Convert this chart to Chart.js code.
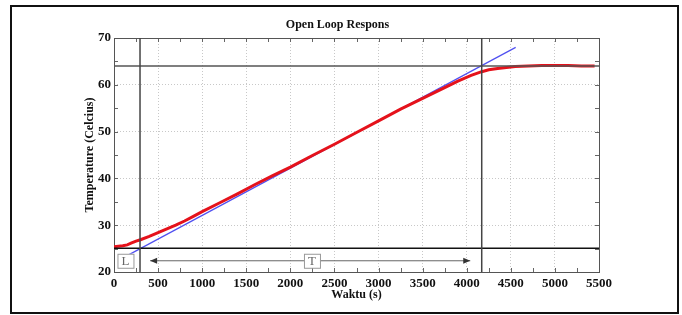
<!DOCTYPE html>
<html>
<head>
<meta charset="utf-8">
<script src="https://cdn.jsdelivr.net/npm/chart.js@4"></script>
<style>
  body { margin: 0; background: #fff; }
  #wrap { position: relative; width: 682px; height: 315px; }
  #frame { position: absolute; left: 10px; top: 5px; width: 665px; height: 305px; border: 2px solid #111; pointer-events: none; }
</style>
</head>
<body>
<div id="wrap">
  <canvas id="chart" width="682" height="315"></canvas>
  <div id="frame"></div>
</div>
<script>
const redTime = [0, 50, 100, 150, 200, 250, 300, 400, 500, 600, 700, 800, 900, 1000, 1200, 1400, 1600, 1800, 2000, 2250, 2500, 2750, 3000, 3250, 3500, 3750, 3900, 4050, 4170, 4250, 4350, 4450, 4550, 4700, 4850, 5000, 5150, 5300, 5450];
const redTemp = [25.4, 25.5, 25.6, 25.8, 26.2, 26.6, 26.9, 27.6, 28.4, 29.2, 30.0, 30.9, 31.9, 32.9, 34.8, 36.7, 38.7, 40.6, 42.4, 44.9, 47.3, 49.8, 52.3, 54.8, 57.1, 59.4, 60.8, 62.0, 62.8, 63.2, 63.5, 63.7, 63.9, 64.0, 64.1, 64.1, 64.1, 64.0, 64.0];

// tangent line end points
const tangentTime = [160, 4555];
const tangentTemp = [23.6, 68.0];

// reference lines
const markerTimes = [295, 4170];
const markerTemps = [25.1, 64];

// L / T annotation
const arrowTimes = [410, 4040];
const arrowTemp = 22.4;
const labelL = { text: 'L', x: 130 };
const labelT = { text: 'T', x: 2245 };

const xTicks = [0, 500, 1000, 1500, 2000, 2500, 3000, 3500, 4000, 4500, 5000, 5500];
const yTicks = [20, 30, 40, 50, 60, 70];

const serif = '"Liberation Serif", "Times New Roman", serif';

const pts = (xs, ys) => xs.map((x, i) => ({ x: x, y: ys[i] }));

const datasets = [];
markerTimes.forEach(t => datasets.push({
    data: [{ x: t, y: yTicks[0] }, { x: t, y: yTicks[yTicks.length - 1] }],
    borderColor: '#444', borderWidth: 1.5
}));
markerTemps.forEach((v, i) => datasets.push({
    data: [{ x: xTicks[0], y: v }, { x: xTicks[xTicks.length - 1], y: v }],
    borderColor: i === 0 ? '#111' : '#555', borderWidth: 1.5
}));
datasets.push({
    data: pts(redTime, redTemp),
    borderColor: '#e5121b', borderWidth: 3
});
datasets.push({
    data: pts(tangentTime, tangentTemp),
    borderColor: '#5050f0', borderWidth: 1.2
});

const extras = {
    id: 'extras',
    beforeDatasetsDraw(chart) {
        const { ctx, chartArea: a, scales: { x, y } } = chart;
        ctx.save();
        ctx.strokeStyle = '#666';
        ctx.lineWidth = 1;
        ctx.beginPath();
        for (let t = 0; t <= 5500; t += 250) {
            const px = Math.round(x.getPixelForValue(t)) + 0.5;
            ctx.moveTo(px, a.bottom); ctx.lineTo(px, a.bottom - 4);
            ctx.moveTo(px, a.top); ctx.lineTo(px, a.top + 4);
        }
        for (let v = 20; v <= 70; v += 5) {
            const py = Math.round(y.getPixelForValue(v)) + 0.5;
            ctx.moveTo(a.left, py); ctx.lineTo(a.left + 4, py);
            ctx.moveTo(a.right, py); ctx.lineTo(a.right - 4, py);
        }
        ctx.stroke();
        ctx.strokeStyle = '#555';
        ctx.strokeRect(a.left + 0.5, a.top + 0.5, a.right - a.left, a.bottom - a.top);
        ctx.restore();
    },
    afterDatasetsDraw(chart) {
        const { ctx, scales: { x, y } } = chart;
        const py = y.getPixelForValue(arrowTemp);
        const x0 = x.getPixelForValue(arrowTimes[0]);
        const x1 = x.getPixelForValue(arrowTimes[1]);
        ctx.save();
        ctx.strokeStyle = '#666';
        ctx.fillStyle = '#333';
        ctx.lineWidth = 1;
        ctx.beginPath();
        ctx.moveTo(x0, py); ctx.lineTo(x1, py);
        ctx.stroke();
        [[x0, 1], [x1, -1]].forEach(([px, d]) => {
            ctx.beginPath();
            ctx.moveTo(px, py);
            ctx.lineTo(px + 7 * d, py - 3);
            ctx.lineTo(px + 7 * d, py + 3);
            ctx.closePath();
            ctx.fill();
        });
        [labelL, labelT].forEach(l => {
            const cx = x.getPixelForValue(l.x);
            ctx.fillStyle = '#fff';
            ctx.fillRect(cx - 8, py - 7, 16, 14);
            ctx.strokeStyle = '#999';
            ctx.strokeRect(cx - 8 + 0.5, py - 7 + 0.5, 16, 14);
            ctx.fillStyle = '#666';
            ctx.font = '13px ' + serif;
            ctx.textAlign = 'center';
            ctx.textBaseline = 'middle';
            ctx.fillText(l.text, cx, py + 1);
        });
        ctx.restore();
    }
};

new Chart(document.getElementById('chart').getContext('2d'), {
    type: 'line',
    data: { datasets: datasets },
    plugins: [extras],
    options: {
        responsive: false,
        animation: false,
        events: [],
        elements: { point: { radius: 0 }, line: { tension: 0 } },
        layout: { padding: { left: 76, right: 83, top: 14, bottom: 0 } },
        plugins: {
            legend: { display: false },
            tooltip: { enabled: false },
            title: {
                display: true,
                text: 'Open Loop Respons',
                color: '#111',
                font: { family: serif, size: 12, weight: 'bold' },
                padding: { top: 4, bottom: 5.6 }
            }
        },
        scales: {
            x: {
                type: 'linear',
                min: 0, max: 5500,
                afterBuildTicks: s => { s.ticks = xTicks.map(v => ({ value: v })); },
                afterFit: s => { s.height = 43; },
                grid: { color: '#c8c8c8', drawTicks: false },
                border: { display: false, dash: [1, 2] },
                ticks: {
                    color: '#111', padding: 4, maxRotation: 0,
                    font: { family: serif, size: 13, weight: 'bold' },
                    callback: v => String(v)
                },
                title: { display: true, text: 'Waktu (s)', color: '#111', padding: { top: 0, bottom: 13 }, font: { family: serif, size: 12, weight: 'bold' } }
            },
            y: {
                min: 20, max: 70,
                afterBuildTicks: s => { s.ticks = yTicks.map(v => ({ value: v })); },
                afterFit: s => { s.width = 38; },
                grid: { color: '#c8c8c8', drawTicks: false },
                border: { display: false, dash: [1, 2] },
                ticks: {
                    color: '#111', padding: 3,
                    font: { family: serif, size: 13, weight: 'bold' },
                    callback: v => String(v)
                },
                title: { display: true, text: 'Temperature (Celcius)', color: '#111', padding: { top: 7, bottom: 0 }, font: { family: serif, size: 12, weight: 'bold' } }
            }
        }
    }
});
</script>
</body>
</html>
